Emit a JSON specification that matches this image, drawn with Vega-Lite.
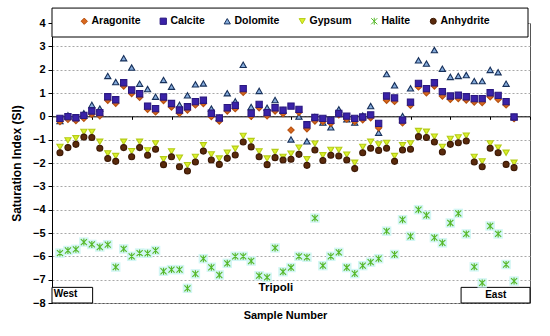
{
"$schema":"https://vega.github.io/schema/vega-lite/v6.json",
"width":478,"height":280,
"autosize":{"type":"none"},
"padding":{"left":52,"top":23,"right":20,"bottom":33},
"background":"white",
"config":{
"font":"Liberation Sans",
"view":{"stroke":"#555555","strokeWidth":1},
"axis":{"labelFont":"Liberation Sans","titleFont":"Liberation Sans","labelColor":"black","titleColor":"black","domainColor":"black","tickColor":"black"},
"axisY":{"labelOverlap":false,"tickSize":4,"labelFontSize":11,"labelFontWeight":"bold","labelPadding":3,"grid":true,"gridDash":[2,2],"gridColor":"#a8a8a8","gridWidth":1,"titleFontSize":12,"titleFontWeight":"bold","titleX":-36,"titleY":140,"titleAlign":"center","titleBaseline":"middle"},
"axisX":{"labels":false,"ticks":true,"tickSize":3,"grid":false,"domainWidth":1,"titleFontSize":11,"titleFontWeight":"bold","titleX":233,"titleY":199,"titleBaseline":"middle","titleAlign":"center"},
"legend":{"orient":"none","legendX":27,"legendY":-7,"direction":"horizontal","columns":6,"gridAlign":"none","columnPadding":17,"labelFont":"Liberation Sans","labelFontSize":10.5,"labelFontWeight":"bold","labelColor":"black","labelOffset":2,"symbolStrokeWidth":1}
},
"datasets":{
"boxes":[{"x0":0,"x1":59.75,"y0":3.4,"y1":4.64},{"x0":0,"x1":5.1,"y0":-8,"y1":-7.33},{"x0":51.35,"x1":60,"y0":-8,"y1":-7.33}],
"notes":[{"t":"Tripoli","x":28.1,"y":-7.35},{"t":"West","x":1.7,"y":-7.63},{"t":"East","x":55.7,"y":-7.66}],
"pts":[
{"s":1,"m":"Dolomite","v":-0.2},{"s":2,"m":"Dolomite","v":0.04},{"s":3,"m":"Dolomite","v":-0.06},{"s":4,"m":"Dolomite","v":0.13},{"s":5,"m":"Dolomite","v":0.49},{"s":6,"m":"Dolomite","v":0.33},{"s":7,"m":"Dolomite","v":1.73},{"s":8,"m":"Dolomite","v":1.47},{"s":9,"m":"Dolomite","v":2.49},{"s":10,"m":"Dolomite","v":2.09},{"s":11,"m":"Dolomite","v":1.4},{"s":12,"m":"Dolomite","v":1.17},{"s":13,"m":"Dolomite","v":0.84},{"s":14,"m":"Dolomite","v":1.56},{"s":15,"m":"Dolomite","v":1.27},{"s":16,"m":"Dolomite","v":0.49},{"s":17,"m":"Dolomite","v":0.9},{"s":18,"m":"Dolomite","v":1.37},{"s":19,"m":"Dolomite","v":1.41},{"s":20,"m":"Dolomite","v":0.33},{"s":21,"m":"Dolomite","v":-0.06},{"s":22,"m":"Dolomite","v":0.99},{"s":23,"m":"Dolomite","v":0.64},{"s":24,"m":"Dolomite","v":2.21},{"s":25,"m":"Dolomite","v":0.4},{"s":26,"m":"Dolomite","v":1.09},{"s":27,"m":"Dolomite","v":0.37},{"s":28,"m":"Dolomite","v":0.7},{"s":29,"m":"Dolomite","v":0.26},{"s":30,"m":"Dolomite","v":-0.99},{"s":31,"m":"Dolomite","v":-0.01},{"s":32,"m":"Dolomite","v":-1.07},{"s":33,"m":"Dolomite","v":-0.03},{"s":34,"m":"Dolomite","v":-0.27},{"s":35,"m":"Dolomite","v":-0.47},{"s":36,"m":"Dolomite","v":0.3},{"s":37,"m":"Dolomite","v":-0.13},{"s":38,"m":"Dolomite","v":-0.27},{"s":39,"m":"Dolomite","v":0.03},{"s":40,"m":"Dolomite","v":0.44},{"s":41,"m":"Dolomite","v":-0.7},{"s":42,"m":"Dolomite","v":1.81},{"s":43,"m":"Dolomite","v":1.33},{"s":44,"m":"Dolomite","v":0.01},{"s":45,"m":"Dolomite","v":1.2},{"s":46,"m":"Dolomite","v":2.4},{"s":47,"m":"Dolomite","v":2.26},{"s":48,"m":"Dolomite","v":2.84},{"s":49,"m":"Dolomite","v":2.04},{"s":50,"m":"Dolomite","v":1.69},{"s":51,"m":"Dolomite","v":1.73},{"s":52,"m":"Dolomite","v":1.77},{"s":53,"m":"Dolomite","v":1.51},{"s":54,"m":"Dolomite","v":1.51},{"s":55,"m":"Dolomite","v":1.99},{"s":56,"m":"Dolomite","v":1.89},{"s":57,"m":"Dolomite","v":1.4},{"s":58,"m":"Dolomite","v":-0.03},
{"s":1,"m":"Aragonite","v":-0.22},{"s":2,"m":"Aragonite","v":-0.13},{"s":3,"m":"Aragonite","v":-0.18},{"s":4,"m":"Aragonite","v":-0.08},{"s":5,"m":"Aragonite","v":0.09},{"s":6,"m":"Aragonite","v":0.02},{"s":7,"m":"Aragonite","v":0.69},{"s":8,"m":"Aragonite","v":0.56},{"s":9,"m":"Aragonite","v":1.3},{"s":10,"m":"Aragonite","v":0.98},{"s":11,"m":"Aragonite","v":0.82},{"s":12,"m":"Aragonite","v":0.3},{"s":13,"m":"Aragonite","v":0.19},{"s":14,"m":"Aragonite","v":0.68},{"s":15,"m":"Aragonite","v":0.4},{"s":16,"m":"Aragonite","v":0.13},{"s":17,"m":"Aragonite","v":0.27},{"s":18,"m":"Aragonite","v":0.49},{"s":19,"m":"Aragonite","v":0.55},{"s":20,"m":"Aragonite","v":-0.01},{"s":21,"m":"Aragonite","v":-0.2},{"s":22,"m":"Aragonite","v":0.23},{"s":23,"m":"Aragonite","v":0.33},{"s":24,"m":"Aragonite","v":1.03},{"s":25,"m":"Aragonite","v":0.0},{"s":26,"m":"Aragonite","v":0.37},{"s":27,"m":"Aragonite","v":0.02},{"s":28,"m":"Aragonite","v":0.23},{"s":29,"m":"Aragonite","v":0.12},{"s":30,"m":"Aragonite","v":-0.59},{"s":31,"m":"Aragonite","v":0.17},{"s":32,"m":"Aragonite","v":-0.53},{"s":33,"m":"Aragonite","v":-0.2},{"s":34,"m":"Aragonite","v":-0.22},{"s":35,"m":"Aragonite","v":-0.3},{"s":36,"m":"Aragonite","v":0.06},{"s":37,"m":"Aragonite","v":-0.12},{"s":38,"m":"Aragonite","v":-0.22},{"s":39,"m":"Aragonite","v":-0.15},{"s":40,"m":"Aragonite","v":-0.06},{"s":41,"m":"Aragonite","v":-0.49},{"s":42,"m":"Aragonite","v":0.69},{"s":43,"m":"Aragonite","v":0.64},{"s":44,"m":"Aragonite","v":-0.28},{"s":45,"m":"Aragonite","v":0.47},{"s":46,"m":"Aragonite","v":1.26},{"s":47,"m":"Aragonite","v":1.01},{"s":48,"m":"Aragonite","v":1.3},{"s":49,"m":"Aragonite","v":0.87},{"s":50,"m":"Aragonite","v":0.73},{"s":51,"m":"Aragonite","v":0.76},{"s":52,"m":"Aragonite","v":0.7},{"s":53,"m":"Aragonite","v":0.61},{"s":54,"m":"Aragonite","v":0.59},{"s":55,"m":"Aragonite","v":0.84},{"s":56,"m":"Aragonite","v":0.73},{"s":57,"m":"Aragonite","v":0.49},{"s":58,"m":"Aragonite","v":-0.1},
{"s":1,"m":"Calcite","v":-0.09},{"s":2,"m":"Calcite","v":-0.01},{"s":3,"m":"Calcite","v":-0.06},{"s":4,"m":"Calcite","v":0.04},{"s":5,"m":"Calcite","v":0.23},{"s":6,"m":"Calcite","v":0.16},{"s":7,"m":"Calcite","v":0.84},{"s":8,"m":"Calcite","v":0.71},{"s":9,"m":"Calcite","v":1.44},{"s":10,"m":"Calcite","v":1.13},{"s":11,"m":"Calcite","v":0.97},{"s":12,"m":"Calcite","v":0.44},{"s":13,"m":"Calcite","v":0.33},{"s":14,"m":"Calcite","v":0.83},{"s":15,"m":"Calcite","v":0.55},{"s":16,"m":"Calcite","v":0.27},{"s":17,"m":"Calcite","v":0.41},{"s":18,"m":"Calcite","v":0.63},{"s":19,"m":"Calcite","v":0.69},{"s":20,"m":"Calcite","v":0.13},{"s":21,"m":"Calcite","v":-0.07},{"s":22,"m":"Calcite","v":0.37},{"s":23,"m":"Calcite","v":0.47},{"s":24,"m":"Calcite","v":1.19},{"s":25,"m":"Calcite","v":0.13},{"s":26,"m":"Calcite","v":0.51},{"s":27,"m":"Calcite","v":0.16},{"s":28,"m":"Calcite","v":0.37},{"s":29,"m":"Calcite","v":0.26},{"s":30,"m":"Calcite","v":0.44},{"s":31,"m":"Calcite","v":0.3},{"s":32,"m":"Calcite","v":-0.36},{"s":33,"m":"Calcite","v":-0.05},{"s":34,"m":"Calcite","v":-0.09},{"s":35,"m":"Calcite","v":-0.17},{"s":36,"m":"Calcite","v":0.12},{"s":37,"m":"Calcite","v":0.01},{"s":38,"m":"Calcite","v":-0.09},{"s":39,"m":"Calcite","v":-0.03},{"s":40,"m":"Calcite","v":0.06},{"s":41,"m":"Calcite","v":-0.3},{"s":42,"m":"Calcite","v":0.87},{"s":43,"m":"Calcite","v":0.79},{"s":44,"m":"Calcite","v":-0.16},{"s":45,"m":"Calcite","v":0.61},{"s":46,"m":"Calcite","v":1.41},{"s":47,"m":"Calcite","v":1.19},{"s":48,"m":"Calcite","v":1.44},{"s":49,"m":"Calcite","v":1.06},{"s":50,"m":"Calcite","v":0.87},{"s":51,"m":"Calcite","v":0.91},{"s":52,"m":"Calcite","v":0.84},{"s":53,"m":"Calcite","v":0.76},{"s":54,"m":"Calcite","v":0.76},{"s":55,"m":"Calcite","v":1.01},{"s":56,"m":"Calcite","v":0.9},{"s":57,"m":"Calcite","v":0.63},{"s":58,"m":"Calcite","v":-0.03},
{"s":1,"m":"Gypsum","v":-1.31},{"s":2,"m":"Gypsum","v":-1.03},{"s":3,"m":"Gypsum","v":-0.94},{"s":4,"m":"Gypsum","v":-0.67},{"s":5,"m":"Gypsum","v":-0.67},{"s":6,"m":"Gypsum","v":-1.09},{"s":7,"m":"Gypsum","v":-1.59},{"s":8,"m":"Gypsum","v":-1.7},{"s":9,"m":"Gypsum","v":-1.09},{"s":10,"m":"Gypsum","v":-1.49},{"s":11,"m":"Gypsum","v":-1.09},{"s":12,"m":"Gypsum","v":-1.46},{"s":13,"m":"Gypsum","v":-1.16},{"s":14,"m":"Gypsum","v":-1.84},{"s":15,"m":"Gypsum","v":-1.5},{"s":16,"m":"Gypsum","v":-1.77},{"s":17,"m":"Gypsum","v":-2.09},{"s":18,"m":"Gypsum","v":-1.74},{"s":19,"m":"Gypsum","v":-1.24},{"s":20,"m":"Gypsum","v":-1.63},{"s":21,"m":"Gypsum","v":-1.81},{"s":22,"m":"Gypsum","v":-1.56},{"s":23,"m":"Gypsum","v":-1.39},{"s":24,"m":"Gypsum","v":-0.84},{"s":25,"m":"Gypsum","v":-1.06},{"s":26,"m":"Gypsum","v":-1.5},{"s":27,"m":"Gypsum","v":-1.81},{"s":28,"m":"Gypsum","v":-1.53},{"s":29,"m":"Gypsum","v":-1.74},{"s":30,"m":"Gypsum","v":-1.6},{"s":31,"m":"Gypsum","v":-1.34},{"s":32,"m":"Gypsum","v":-1.84},{"s":33,"m":"Gypsum","v":-1.17},{"s":34,"m":"Gypsum","v":-1.67},{"s":35,"m":"Gypsum","v":-1.44},{"s":36,"m":"Gypsum","v":-1.44},{"s":37,"m":"Gypsum","v":-1.64},{"s":38,"m":"Gypsum","v":-1.99},{"s":39,"m":"Gypsum","v":-1.31},{"s":40,"m":"Gypsum","v":-1.09},{"s":41,"m":"Gypsum","v":-1.2},{"s":42,"m":"Gypsum","v":-1.14},{"s":43,"m":"Gypsum","v":-1.7},{"s":44,"m":"Gypsum","v":-1.24},{"s":45,"m":"Gypsum","v":-1.16},{"s":46,"m":"Gypsum","v":-0.63},{"s":47,"m":"Gypsum","v":-0.66},{"s":48,"m":"Gypsum","v":-0.87},{"s":49,"m":"Gypsum","v":-1.31},{"s":50,"m":"Gypsum","v":-0.97},{"s":51,"m":"Gypsum","v":-0.9},{"s":52,"m":"Gypsum","v":-0.83},{"s":53,"m":"Gypsum","v":-1.74},{"s":54,"m":"Gypsum","v":-1.93},{"s":55,"m":"Gypsum","v":-1.16},{"s":56,"m":"Gypsum","v":-1.34},{"s":57,"m":"Gypsum","v":-1.56},{"s":58,"m":"Gypsum","v":-1.99},
{"s":1,"m":"Anhydrite","v":-1.56},{"s":2,"m":"Anhydrite","v":-1.34},{"s":3,"m":"Anhydrite","v":-1.2},{"s":4,"m":"Anhydrite","v":-0.89},{"s":5,"m":"Anhydrite","v":-0.91},{"s":6,"m":"Anhydrite","v":-1.37},{"s":7,"m":"Anhydrite","v":-1.81},{"s":8,"m":"Anhydrite","v":-1.93},{"s":9,"m":"Anhydrite","v":-1.34},{"s":10,"m":"Anhydrite","v":-1.73},{"s":11,"m":"Anhydrite","v":-1.34},{"s":12,"m":"Anhydrite","v":-1.67},{"s":13,"m":"Anhydrite","v":-1.41},{"s":14,"m":"Anhydrite","v":-2.07},{"s":15,"m":"Anhydrite","v":-1.73},{"s":16,"m":"Anhydrite","v":-2.16},{"s":17,"m":"Anhydrite","v":-2.34},{"s":18,"m":"Anhydrite","v":-1.96},{"s":19,"m":"Anhydrite","v":-1.49},{"s":20,"m":"Anhydrite","v":-1.87},{"s":21,"m":"Anhydrite","v":-2.06},{"s":22,"m":"Anhydrite","v":-1.8},{"s":23,"m":"Anhydrite","v":-1.66},{"s":24,"m":"Anhydrite","v":-1.1},{"s":25,"m":"Anhydrite","v":-1.31},{"s":26,"m":"Anhydrite","v":-1.73},{"s":27,"m":"Anhydrite","v":-2.07},{"s":28,"m":"Anhydrite","v":-1.77},{"s":29,"m":"Anhydrite","v":-1.87},{"s":30,"m":"Anhydrite","v":-1.84},{"s":31,"m":"Anhydrite","v":-1.63},{"s":32,"m":"Anhydrite","v":-2.1},{"s":33,"m":"Anhydrite","v":-1.44},{"s":34,"m":"Anhydrite","v":-1.89},{"s":35,"m":"Anhydrite","v":-1.67},{"s":36,"m":"Anhydrite","v":-1.7},{"s":37,"m":"Anhydrite","v":-1.87},{"s":38,"m":"Anhydrite","v":-2.24},{"s":39,"m":"Anhydrite","v":-1.56},{"s":40,"m":"Anhydrite","v":-1.37},{"s":41,"m":"Anhydrite","v":-1.46},{"s":42,"m":"Anhydrite","v":-1.37},{"s":43,"m":"Anhydrite","v":-1.93},{"s":44,"m":"Anhydrite","v":-1.44},{"s":45,"m":"Anhydrite","v":-1.41},{"s":46,"m":"Anhydrite","v":-0.87},{"s":47,"m":"Anhydrite","v":-0.91},{"s":48,"m":"Anhydrite","v":-1.1},{"s":49,"m":"Anhydrite","v":-1.53},{"s":50,"m":"Anhydrite","v":-1.2},{"s":51,"m":"Anhydrite","v":-1.13},{"s":52,"m":"Anhydrite","v":-1.06},{"s":53,"m":"Anhydrite","v":-1.96},{"s":54,"m":"Anhydrite","v":-2.16},{"s":55,"m":"Anhydrite","v":-1.37},{"s":56,"m":"Anhydrite","v":-1.56},{"s":57,"m":"Anhydrite","v":-2.06},{"s":58,"m":"Anhydrite","v":-2.2},
{"s":1,"m":"Halite","v":-5.86},{"s":2,"m":"Halite","v":-5.75},{"s":3,"m":"Halite","v":-5.7},{"s":4,"m":"Halite","v":-5.39},{"s":5,"m":"Halite","v":-5.49},{"s":6,"m":"Halite","v":-5.6},{"s":7,"m":"Halite","v":-5.5},{"s":8,"m":"Halite","v":-6.46},{"s":9,"m":"Halite","v":-5.68},{"s":10,"m":"Halite","v":-6.0},{"s":11,"m":"Halite","v":-5.86},{"s":12,"m":"Halite","v":-5.87},{"s":13,"m":"Halite","v":-5.75},{"s":14,"m":"Halite","v":-6.64},{"s":15,"m":"Halite","v":-6.57},{"s":16,"m":"Halite","v":-6.57},{"s":17,"m":"Halite","v":-7.37},{"s":18,"m":"Halite","v":-6.75},{"s":19,"m":"Halite","v":-6.1},{"s":20,"m":"Halite","v":-6.47},{"s":21,"m":"Halite","v":-6.8},{"s":22,"m":"Halite","v":-6.3},{"s":23,"m":"Halite","v":-6.0},{"s":24,"m":"Halite","v":-6.0},{"s":25,"m":"Halite","v":-6.2},{"s":26,"m":"Halite","v":-6.83},{"s":27,"m":"Halite","v":-6.9},{"s":28,"m":"Halite","v":-5.64},{"s":29,"m":"Halite","v":-6.66},{"s":30,"m":"Halite","v":-6.48},{"s":31,"m":"Halite","v":-6.0},{"s":32,"m":"Halite","v":-6.04},{"s":33,"m":"Halite","v":-4.36},{"s":34,"m":"Halite","v":-6.4},{"s":35,"m":"Halite","v":-6.0},{"s":36,"m":"Halite","v":-5.83},{"s":37,"m":"Halite","v":-6.48},{"s":38,"m":"Halite","v":-6.74},{"s":39,"m":"Halite","v":-6.4},{"s":40,"m":"Halite","v":-6.25},{"s":41,"m":"Halite","v":-6.1},{"s":42,"m":"Halite","v":-4.92},{"s":43,"m":"Halite","v":-5.92},{"s":44,"m":"Halite","v":-4.43},{"s":45,"m":"Halite","v":-5.14},{"s":46,"m":"Halite","v":-4.0},{"s":47,"m":"Halite","v":-4.24},{"s":48,"m":"Halite","v":-5.2},{"s":49,"m":"Halite","v":-5.42},{"s":50,"m":"Halite","v":-4.57},{"s":51,"m":"Halite","v":-4.16},{"s":52,"m":"Halite","v":-5.04},{"s":53,"m":"Halite","v":-6.45},{"s":54,"m":"Halite","v":-7.14},{"s":55,"m":"Halite","v":-4.7},{"s":56,"m":"Halite","v":-5.04},{"s":57,"m":"Halite","v":-6.35},{"s":58,"m":"Halite","v":-7.06}
]},
"encoding":{
"x":{"type":"quantitative","scale":{"domain":[0,60],"nice":false,"zero":false},"axis":{"orient":"bottom","offset":-186.67,"values":[0,5,10,15,20,25,30,35,40,45,50,55,60],"title":"Sample Number"}},
"y":{"type":"quantitative","scale":{"domain":[-8,4],"nice":false,"zero":false},"axis":{"values":[-8,-7,-6,-5,-4,-3,-2,-1,0,1,2,3,4],"tickCount":13,"title":"Saturation Index (SI)"}}
},
"layer":[
{"data":{"name":"boxes"},"mark":{"type":"rect","fill":"white","stroke":"black","strokeWidth":1},
"encoding":{"x":{"field":"x0"},"x2":{"field":"x1"},"y":{"field":"y0"},"y2":{"field":"y1"}}},
{"data":{"name":"notes"},"transform":[{"filter":"datum.t == 'Tripoli'"}],"mark":{"type":"text","font":"Liberation Sans","fontSize":11.5,"fontWeight":"bold","color":"black","align":"center","baseline":"middle"},
"encoding":{"x":{"field":"x"},"y":{"field":"y"},"text":{"field":"t"}}},
{"data":{"name":"notes"},"transform":[{"filter":"datum.t != 'Tripoli'"}],"mark":{"type":"text","font":"Liberation Sans","fontSize":10,"fontWeight":"bold","color":"black","align":"center","baseline":"middle"},
"encoding":{"x":{"field":"x"},"y":{"field":"y"},"text":{"field":"t"}}},
{"data":{"name":"pts"},"transform":[{"filter":"datum.m == 'Halite'"}],"mark":{"type":"square","size":90,"fill":"#D3F6F4","opacity":1,"strokeWidth":0},
"encoding":{"x":{"field":"s"},"y":{"field":"v"}}},
{"data":{"name":"pts"},"mark":{"type":"point","opacity":1,"strokeWidth":1.1},
"encoding":{
"x":{"field":"s"},
"y":{"field":"v"},
"shape":{"field":"m","type":"nominal","scale":{"domain":["Aragonite","Calcite","Dolomite","Gypsum","Halite","Anhydrite"],"range":["diamond","square","triangle-up","triangle-down","M-1,-1L1,1M-1,1L1,-1M0,-1.15L0,1.15","circle"]},"legend":{"title":null}},
"fill":{"field":"m","type":"nominal","scale":{"domain":["Aragonite","Calcite","Dolomite","Gypsum","Halite","Anhydrite"],"range":["#D9681E","#3A22A8","#86ACDC","#DDF22A","#66CC33","#5A2A0C"]},"legend":{"title":null}},
"stroke":{"field":"m","type":"nominal","scale":{"domain":["Aragonite","Calcite","Dolomite","Gypsum","Halite","Anhydrite"],"range":["#B5500F","#2A1880","#17305A","#B4CC18","#55B828","#3D1A05"]},"legend":{"title":null}},
"size":{"field":"m","type":"nominal","scale":{"domain":["Aragonite","Calcite","Dolomite","Gypsum","Halite","Anhydrite"],"range":[40,36,70,22,50,36]},"legend":{"title":null}}
}}
]
}
